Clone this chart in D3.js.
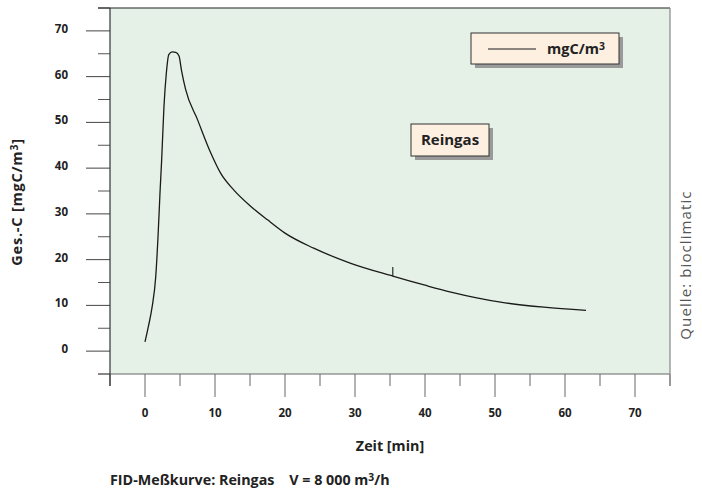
<!DOCTYPE html>
<html>
<head>
<meta charset="utf-8">
<script src="https://cdn.jsdelivr.net/npm/d3@7"></script>
<style>
  body { margin: 0; background: #fff; }
  svg { display: block; }
  text { font-family: "Open Sans", sans-serif; fill: #222; }
</style>
</head>
<body>
<div id="canvas"></div>
<script>
var zeit = [0, 0.5, 1.0, 1.53, 1.86, 2.14, 2.38, 2.71, 3.05, 3.4, 3.9, 4.4, 4.86, 5.2, 5.8, 7.5, 9.4, 10.8, 12.7, 15, 17.5, 20, 24.1, 29.4, 35.4, 40, 43.7, 50.8, 57, 63];
var gesC = [2, 5.5, 9.5, 16.2, 25, 34.5, 41.8, 53.5, 60.8, 64.8, 65.4, 65.3, 64.5, 61.5, 57.2, 50.6, 43.3, 38.9, 35.2, 31.8, 28.7, 25.8, 22.5, 19.2, 16.4, 14.4, 12.9, 10.7, 9.6, 8.9];
var xTicks = [0, 10, 20, 30, 40, 50, 60, 70];
var yTicks = [0, 10, 20, 30, 40, 50, 60, 70];
var marker = [35.4, 16.4, 18.4]; // small vertical mark on the curve

window.onload = (function () {
    var W = 702, H = 491;
    var left = 110, right = 670, top = 8, bottom = 374;

    var svg = d3.select('#canvas').append('svg')
        .attr('width', W).attr('height', H);

    var x = d3.scaleLinear().domain([-5, 75]).range([left, right]);
    var y = d3.scaleLinear().domain([-5, 75]).range([bottom, top]);

    // plot background
    svg.append('rect')
        .attr('x', left).attr('y', top)
        .attr('width', right - left).attr('height', bottom - top)
        .attr('fill', '#e5f1e6');

    // y axis: major ticks long, minor ticks short
    var yMinor = d3.range(-5, 76, 10);
    svg.append('g').selectAll('line').data(yTicks).enter().append('line')
        .attr('x1', 86).attr('x2', left)
        .attr('y1', function (d) { return y(d); })
        .attr('y2', function (d) { return y(d); })
        .attr('stroke', '#444').attr('stroke-width', 1);
    svg.append('g').selectAll('line').data(yMinor).enter().append('line')
        .attr('x1', 98).attr('x2', left)
        .attr('y1', function (d) { return y(d); })
        .attr('y2', function (d) { return y(d); })
        .attr('stroke', '#555').attr('stroke-width', 1);
    svg.append('g').selectAll('text').data(yTicks).enter().append('text')
        .attr('x', 68)
        .attr('y', function (d) { return y(d) + 2; })
        .attr('text-anchor', 'end')
        .attr('font-size', 11.5).attr('font-weight', 'bold')
        .text(function (d) { return d; });

    // x axis
    var xMinor = d3.range(-5, 76, 10);
    svg.append('g').selectAll('line').data(xTicks).enter().append('line')
        .attr('x1', function (d) { return x(d); })
        .attr('x2', function (d) { return x(d); })
        .attr('y1', bottom).attr('y2', 397)
        .attr('stroke', '#666').attr('stroke-width', 1);
    svg.append('g').selectAll('line').data(xMinor).enter().append('line')
        .attr('x1', function (d) { return x(d); })
        .attr('x2', function (d) { return x(d); })
        .attr('y1', bottom).attr('y2', 386)
        .attr('stroke', '#666').attr('stroke-width', 1);
    svg.append('g').selectAll('text').data(xTicks).enter().append('text')
        .attr('x', function (d) { return x(d); })
        .attr('y', 417)
        .attr('text-anchor', 'middle')
        .attr('font-size', 11.5).attr('font-weight', 'bold')
        .text(function (d) { return d; });

    // frame lines
    svg.append('line').attr('x1', 98).attr('x2', right).attr('y1', top).attr('y2', top)
        .attr('stroke', '#222').attr('stroke-width', 1.2);
    svg.append('line').attr('x1', 98).attr('x2', right).attr('y1', bottom).attr('y2', bottom)
        .attr('stroke', '#666').attr('stroke-width', 1.2);
    svg.append('line').attr('x1', left).attr('x2', left).attr('y1', top).attr('y2', 386)
        .attr('stroke', '#333').attr('stroke-width', 1.2);
    svg.append('line').attr('x1', right).attr('x2', right).attr('y1', top).attr('y2', 386)
        .attr('stroke', '#888').attr('stroke-width', 1.2);

    // the curve
    var pts = zeit.map(function (t, i) { return [t, gesC[i]]; });
    var line = d3.line()
        .x(function (d) { return x(d[0]); })
        .y(function (d) { return y(d[1]); })
        .curve(d3.curveMonotoneX);
    svg.append('path').datum(pts)
        .attr('d', line)
        .attr('fill', 'none').attr('stroke', '#1a1a1a').attr('stroke-width', 1.3);

    svg.append('line')
        .attr('x1', x(marker[0])).attr('x2', x(marker[0]))
        .attr('y1', y(marker[1])).attr('y2', y(marker[2]))
        .attr('stroke', '#1a1a1a').attr('stroke-width', 1.1);

    // boxes with drop shadow
    function box(bx, by, bw, bh) {
        svg.append('rect').attr('x', bx + 4).attr('y', by + 4)
            .attr('width', bw).attr('height', bh).attr('fill', '#9a9a9a');
        svg.append('rect').attr('x', bx).attr('y', by)
            .attr('width', bw).attr('height', bh)
            .attr('fill', '#fdf0e1').attr('stroke', '#333').attr('stroke-width', 1);
    }
    // text with a real superscript 3 after "m"
    function supText(sel, before, after) {
        sel.append('tspan').text(before);
        sel.append('tspan').attr('font-size', '0.72em').attr('dy', '-0.38em').text('3');
        if (after) sel.append('tspan').attr('dy', '0.27em').text(after);
        return sel;
    }

    box(471, 33, 148, 31);
    svg.append('line').attr('x1', 488).attr('x2', 536).attr('y1', 49).attr('y2', 49)
        .attr('stroke', '#1a1a1a').attr('stroke-width', 1.2);
    supText(svg.append('text').attr('x', 547).attr('y', 54)
        .attr('font-size', 14.5).attr('font-weight', 'bold'), 'mgC/m', null);

    box(411, 124, 78, 32);
    svg.append('text').attr('x', 450).attr('y', 145).attr('text-anchor', 'middle')
        .attr('font-size', 15).attr('font-weight', 'bold').text('Reingas');

    // titles
    svg.append('text').attr('x', 390).attr('y', 451).attr('text-anchor', 'middle')
        .attr('font-size', 14.3).attr('font-weight', 'bold').text('Zeit [min]');
    supText(svg.append('text')
        .attr('transform', 'translate(22,202) rotate(-90)')
        .attr('text-anchor', 'middle').attr('letter-spacing', 0.8)
        .attr('font-size', 14.5).attr('font-weight', 'bold'), 'Ges.-C [mgC/m', ']');
    svg.append('text')
        .attr('transform', 'translate(691,265) rotate(-90)')
        .attr('text-anchor', 'middle').attr('letter-spacing', 1.1)
        .attr('font-size', 15).style('fill', '#555')
        .text('Quelle: bioclimatic');
    supText(svg.append('text').attr('x', 110).attr('y', 485)
        .attr('font-size', 14.3).attr('font-weight', 'bold')
        .attr('xml:space', 'preserve').style('white-space', 'pre'),
        'FID-Meßkurve: Reingas    V = 8 000 m', '/h');
}());
</script>
</body>
</html>
